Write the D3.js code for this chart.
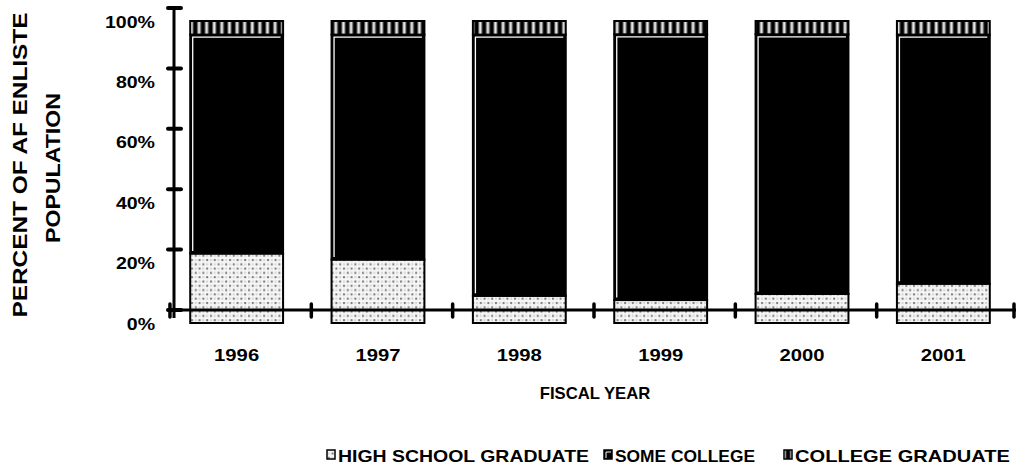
<!DOCTYPE html>
<html><head><meta charset="utf-8">
<script src="https://cdn.jsdelivr.net/npm/d3@7"></script>
<style>body{margin:0;background:#fff}svg{display:block}text{font-family:"Liberation Sans",Arial,sans-serif;font-weight:bold;fill:#000}</style>
</head><body><svg id="c" width="1024" height="467"></svg>
<script>
const years = ["1996","1997","1998","1999","2000","2001"];
const highSchool = [23, 21, 9, 7.6, 9.6, 13];
const someCollege = [72.5, 74.5, 86.5, 88, 86, 82.5];
const collegeGrad = [4.5, 4.5, 4.5, 4.4, 4.4, 4.5];
const seriesNames = ["HIGH SCHOOL GRADUATE","SOME COLLEGE","COLLEGE GRADUATE"];
const yTicks = [0, 20, 40, 60, 80, 100];

const svg = d3.select("#c");
const defs = svg.append("defs");
const pd = defs.append("pattern").attr("id","dots").attr("patternUnits","userSpaceOnUse").attr("width",7.6).attr("height",8.6);
pd.append("rect").attr("width",7.6).attr("height",8.6).attr("fill","#f6f6f6");
[[1,1],[4.8,5.3]].forEach(([x,y])=>pd.append("rect").attr("x",x).attr("y",y).attr("width",2).attr("height",2).attr("fill","#777"));
[[4.8,1],[1,5.3]].forEach(([x,y])=>pd.append("rect").attr("x",x).attr("y",y).attr("width",2).attr("height",2).attr("fill","#d4d4d4"));
const grad = defs.append("linearGradient").attr("id","sg").attr("x1","0").attr("x2","1").attr("y1","0").attr("y2","0");
[["0%","#000"],["35%","#000"],["50%","#999"],["65%","#fff"],["80%","#aaa"],["100%","#000"]].forEach(([o,c])=>grad.append("stop").attr("offset",o).attr("stop-color",c));
const ps = defs.append("pattern").attr("id","stripes").attr("patternUnits","userSpaceOnUse").attr("width",7.6).attr("height",20).attr("x",194);
ps.append("rect").attr("width",7.6).attr("height",20).attr("fill","url(#sg)");

const x = d3.scaleBand().domain(years).range([174,1014]).paddingInner(0.343).paddingOuter(0.143);
const xShift = -4;
const y = d3.scaleLinear().domain([0,100]).range([323,21]);
const axisOffset = -13;

function stretch(sel, k){ sel.each(function(){ const L=this.getComputedTextLength(); d3.select(this).attr("textLength",L*k).attr("lengthAdjust","spacingAndGlyphs"); }); }

const stackData = years.map((yr,i)=>({year:yr, hs:highSchool[i], sc:someCollege[i], cg:collegeGrad[i]}));
const stack = d3.stack().keys(["hs","sc","cg"])(stackData);
const fills = {hs:"url(#dots)", sc:"#000", cg:"url(#stripes)"};

const g = svg.append("g");
stack.forEach(layer=>{
  g.selectAll(null).data(layer).enter().append("rect")
    .attr("x",d=>x(d.data.year)+xShift)
    .attr("y",d=>y(d[1]))
    .attr("width",x.bandwidth())
    .attr("height",d=>y(d[0])-y(d[1]))
    .attr("fill",fills[layer.key])
    .attr("stroke","#000").attr("stroke-width",2);
  if(layer.key==="sc"){
    g.selectAll(null).data(layer).enter().append("path")
      .attr("d",d=>{const x0=x(d.data.year)+xShift+2.5, y0=y(d[1])+2.5, y1=y(d[0])-2.5, x1=x0+x.bandwidth()-5;return `M${x0},${y1}V${y0}H${x1}`;})
      .attr("fill","none").attr("stroke","#fff").attr("stroke-width",1.3);
  }
});

// y axis labels via d3 axis
const yAxis = d3.axisLeft(y).tickValues(yTicks).tickSize(0).tickFormat(d=>d+"%");
const ya = svg.append("g").attr("transform","translate(174,0)").attr("font-size",17).attr("font-family",null).call(yAxis);
ya.select(".domain").remove();
ya.selectAll("text").attr("x",-19).attr("dy","0.36em").attr("font-size",17).style("font-size","17px");
stretch(ya.selectAll("text"),1.15);
svg.append("line").attr("x1",174).attr("x2",174).attr("y1",y(100)+axisOffset).attr("y2",318).attr("stroke","#000").attr("stroke-width",3);
svg.selectAll(".yt").data(yTicks).enter().append("line")
  .attr("x1",168).attr("x2",181).attr("y1",d=>y(d)+axisOffset).attr("y2",d=>y(d)+axisOffset)
  .attr("stroke","#000").attr("stroke-width",4).attr("stroke-linecap","round");
const xAxisY = y(0)+axisOffset;
svg.append("line").attr("x1",168).attr("x2",1016).attr("y1",xAxisY).attr("y2",xAxisY).attr("stroke","#000").attr("stroke-width",3);
const boundaries = years.map(yr=>x(yr)-x.step()*x.paddingInner()/2+xShift+4).concat([1014]);
svg.selectAll(".xt").data(boundaries).enter().append("line")
  .attr("x1",d=>d).attr("x2",d=>d).attr("y1",xAxisY-6).attr("y2",xAxisY+7)
  .attr("stroke","#000").attr("stroke-width",3.5).attr("stroke-linecap","round");
const yl = svg.selectAll(".xl").data(years).enter().append("text")
  .attr("x",d=>x(d)+xShift+x.bandwidth()/2).attr("y",361).attr("text-anchor","middle").style("font-size","17px").text(d=>d);
stretch(yl,1.19);

const ft = svg.append("text").attr("x",595).attr("y",399).attr("text-anchor","middle").style("font-size","17px").text("FISCAL YEAR");
stretch(ft,0.98);
const t1 = svg.append("text").attr("transform","translate(27,165) rotate(-90)").attr("text-anchor","middle").style("font-size","21px").text("PERCENT OF AF ENLISTE");
const t2 = svg.append("text").attr("transform","translate(60,168) rotate(-90)").attr("text-anchor","middle").style("font-size","21px").text("POPULATION");
t1.attr("textLength",305).attr("lengthAdjust","spacingAndGlyphs");
t2.attr("textLength",150).attr("lengthAdjust","spacingAndGlyphs");

// legend
const legendX = [327, 604, 784];
const legendLen = [251, 140, 215];
const lfills = ["url(#dots)","#000","url(#stripes)"];
seriesNames.forEach((n,i)=>{
  svg.append("rect").attr("x",legendX[i]).attr("y",450).attr("width",8).attr("height",9).attr("fill",lfills[i]).attr("stroke","#000").attr("stroke-width",1.5);
  if(i===1) svg.append("path").attr("d",`M${legendX[i]+2},${458}V${452}H${legendX[i]+7}`).attr("stroke","#fff").attr("fill","none").attr("stroke-width",1);
  svg.append("text").attr("x",legendX[i]+11).attr("y",462).style("font-size","17px").attr("textLength",legendLen[i]).attr("lengthAdjust","spacingAndGlyphs").text(n);
});
</script></body></html>
